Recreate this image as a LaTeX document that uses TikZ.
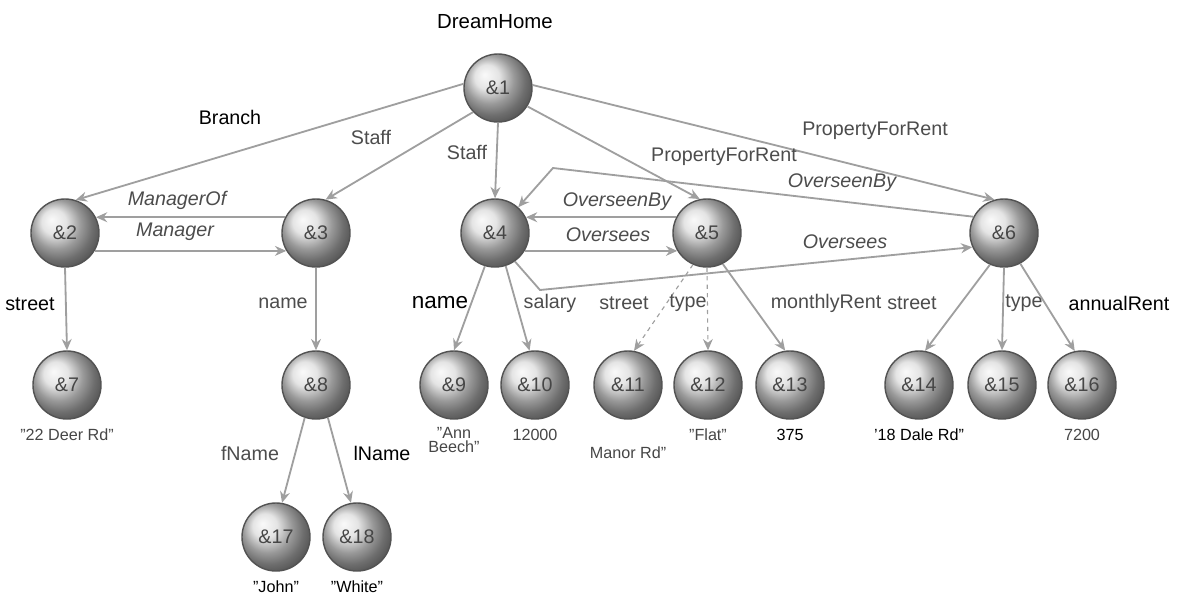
\documentclass[tikz,border=0pt]{standalone}
\usepackage{fontspec}
\setmainfont{Liberation Sans}
\usetikzlibrary{arrows.meta, positioning}

\tikzset{
  obj/.style={circle, draw=gray!65!black, line width=1pt, ball color=gray!28,
              minimum size=1.7cm, inner sep=0pt,
              font=\fontsize{14}{16}\selectfont, text=gray!55!black},
  link/.style={-{Stealth[length=8pt,width=7pt]}, draw=gray!75, line width=1.3pt},
  thinlink/.style={link, line width=0.8pt, dashed},
  lbl/.style={font=\fontsize{14}{16}\selectfont, text=gray!60!black},
  lblk/.style={lbl, text=black},
  role/.style={lbl, font=\fontsize{14}{16}\selectfont\itshape},
  val/.style={font=\fontsize{11.5}{13}\selectfont, text=gray!55!black, align=center},
}

\begin{document}
\begin{tikzpicture}[x=0.025cm, y=-0.025cm]
  \useasboundingbox (0,0) rectangle (1184,595);

  % objects
  \node[obj] (n1)  at (498,88)  {\&1};
  \node[obj] (n2)  at (65,233)  {\&2};
  \node[obj] (n3)  at (316,233) {\&3};
  \node[obj] (n4)  at (495,233) {\&4};
  \node[obj] (n5)  at (707,233) {\&5};
  \node[obj] (n6)  at (1004,233) {\&6};
  \node[obj] (n7)  at (67,385)  {\&7};
  \node[obj] (n8)  at (316,385) {\&8};
  \node[obj] (n9)  at (454,385) {\&9};
  \node[obj] (n10) at (535,385) {\&10};
  \node[obj] (n11) at (628,385) {\&11};
  \node[obj] (n12) at (708,385) {\&12};
  \node[obj] (n13) at (790,385) {\&13};
  \node[obj] (n14) at (919,385) {\&14};
  \node[obj] (n15) at (1002,385) {\&15};
  \node[obj] (n16) at (1082,385) {\&16};
  \node[obj] (n17) at (276,537) {\&17};
  \node[obj] (n18) at (357,537) {\&18};

  \node[lblk, font=\fontsize{14.5}{16}\selectfont] (root) at (495,22) {DreamHome};

  % atomic values
  \node[val, below=3pt of n7]  (v7)  {"22 Deer Rd"};
  \node[val, below=2pt of n9]  (v9)  {"Ann\\[-3pt]Beech"};
  \node[val, below=3pt of n10] (v10) {12000};
  \node[val, below=16pt of n11] (v11) {Manor Rd"};
  \node[val, below=3pt of n12] (v12) {"Flat"};
  \node[val, below=3pt of n13, text=black] (v13) {375};
  \node[val, below=3pt of n14, text=black] (v14) {'18 Dale Rd"};
  \node[val, below=3pt of n16] (v16) {7200};
  \node[val, below=3pt of n17, text=black] (v17) {"John"};
  \node[val, below=3pt of n18, text=black] (v18) {"White"};

  % bends
  \coordinate (bendA) at (553,168);
  \coordinate (bendB) at (540,290);

  % top level edges
  \draw[link] (n1.173) -- (n2.72);
  \draw[link] (n1.224) -- (n3.74);
  \draw[link] (n1.south) -- (n4.north);
  \draw[link] (n1.-32) -- (n5.102);
  \draw[link] (n1.5) -- (n6.106);

  % references
  \draw[link] (n3.153) -- (n2.27);
  \draw[link] (n2.-31) -- (n3.211);
  \draw[link] (n5.153) -- (n4.27);
  \draw[link] (n4.-31) -- (n5.211);
  \draw[link] (n6.152) -- (bendA) -- (n4.48);
  \draw[link] (n4.-55) -- (bendB) -- (n6.204);

  % attributes
  \draw[link] (n2.south) -- (n7.north);
  \draw[link] (n3.south) -- (n8.north);
  \draw[link] (n4.-107) -- (n9.north);
  \draw[link] (n4.-72) -- (n10.99);
  \draw[thinlink] (n5.-114) -- (n11.80);
  \draw[thinlink] (n5.south) -- (n12.north);
  \draw[link] (n5.-63) -- (n13.98);
  \draw[link] (n6.-114) -- (n14.80);
  \draw[link] (n6.south) -- (n15.north);
  \draw[link] (n6.-62) -- (n16.102);
  \draw[link] (n8.-109) -- (n17.80);
  \draw[link] (n8.-70) -- (n18.100);

  % edge labels
  \node[lblk] (lbranch) at (230,117) {Branch};
  \node[lbl] (lstaffa) at (371,137) {Staff};
  \node[lbl] (lstaffb) at (467,152) {Staff};
  \node[lbl] (lpfra) at (724,157) {PropertyForRent};
  \node[lbl] (lpfrb) at (875,131) {PropertyForRent};
  \node[role] (lobya) at (842,183) {OverseenBy};
  \node[role] (lobyb) at (617,202) {OverseenBy};
  \node[role] (lovsa) at (608,235) {Oversees};
  \node[role] (lovsb) at (845,242) {Oversees};
  \node[role] (lmgrof) at (177,200) {ManagerOf};
  \node[role] (lmgr) at (175,232) {Manager};
  \node[lblk] (lstreeta) at (30,304) {street};
  \node[lbl] (lnamea) at (283,303) {name};
  \node[lblk, font=\fontsize{16}{18}\selectfont] (lnameb) at (440,303) {name};
  \node[lbl] (lsalary) at (550,303) {salary};
  \node[lbl] (lstreetb) at (624,303) {street};
  \node[lbl] (ltypea) at (688,303) {type};
  \node[lbl] (lrent) at (826,303) {monthlyRent};
  \node[lbl] (lstreetc) at (912,303) {street};
  \node[lbl] (ltypeb) at (1024,303) {type};
  \node[lblk] (lannual) at (1119,303) {annualRent};
  \node[lbl] (lfname) at (250,453) {fName};
  \node[lblk] (llname) at (382,453) {lName};
\end{tikzpicture}
\end{document}
